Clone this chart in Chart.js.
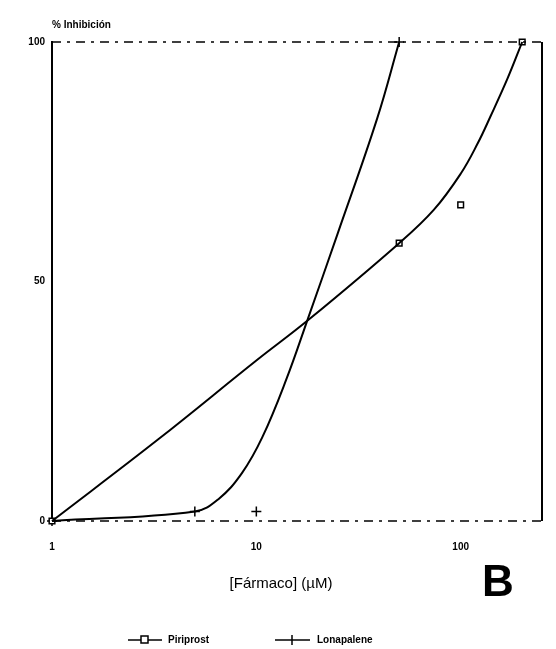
<!DOCTYPE html>
<html>
<head>
<meta charset="utf-8">
<script src="https://cdn.jsdelivr.net/npm/chart.js@4/dist/chart.umd.min.js"></script>
<style>
  html, body { margin: 0; padding: 0; background: #fff; }
  canvas { display: block; }
</style>
</head>
<body>
<canvas id="c" width="556" height="649"></canvas>
<script>
// Concentration (µM) and % inhibition of the measured points
const piriprostDose = [1, 50, 100, 200];
const piriprostInhib = [0, 58, 66, 100];
const lonapaleneDose = [1, 5, 10, 50];
const lonapaleneInhib = [0, 2, 2, 100];

// Fitted curves traced along each drug
const piriprostFitDose = [1, 3.3, 10, 18, 50, 74, 100, 121, 140, 170, 200];
const piriprostFitInhib = [0, 17, 33.5, 42, 58, 65, 72.5, 78.8, 84.5, 92.5, 100];
const lonapaleneFitDose = [1, 5, 6.5, 8.5, 10.7, 14, 17.8, 25, 39, 50];
const lonapaleneFitInhib = [0, 2, 4.5, 10, 17.5, 29.5, 42, 60, 84, 100];

// Axis ticks
const xTicks = [1, 10, 100];
const yTicks = [0, 50, 100];

const seriesNames = ['Piriprost', 'Lonapalene'];
const xTitle = '[Fármaco] (µM)';
const yTitle = '% Inhibición';
const panelLetter = 'B';

const toXY = (xs, ys) => xs.map((x, i) => ({ x: x, y: ys[i] }));
const FONT = '"Liberation Sans", Arial, sans-serif';

// Frame, axis titles, panel letter and legend
const decorations = {
  id: 'decorations',
  afterDraw(chart) {
    const { ctx, chartArea: a } = chart;
    ctx.save();
    ctx.strokeStyle = '#000';
    // right frame edge (solid)
    ctx.lineWidth = 2;
    ctx.beginPath();
    ctx.moveTo(a.right, a.top);
    ctx.lineTo(a.right, a.bottom);
    ctx.stroke();
    // top and bottom frame edges (broken)
    ctx.lineWidth = 1.5;
    ctx.setLineDash([9, 6, 3, 6]);
    ctx.beginPath();
    ctx.moveTo(a.left, a.top);
    ctx.lineTo(a.right, a.top);
    ctx.moveTo(a.left, a.bottom);
    ctx.lineTo(a.right, a.bottom);
    ctx.stroke();
    ctx.setLineDash([]);

    ctx.fillStyle = '#000';
    ctx.textBaseline = 'middle';
    // y title
    ctx.font = 'bold 10px ' + FONT;
    ctx.textAlign = 'left';
    ctx.fillText(yTitle, 52, 25);
    // x title
    ctx.font = '15px ' + FONT;
    ctx.textAlign = 'center';
    ctx.fillText(xTitle, 281, 584);
    // panel letter
    ctx.font = 'bold 44px ' + FONT;
    ctx.textAlign = 'left';
    ctx.fillText(panelLetter, 482, 584);

    // legend
    const ly = 640;
    ctx.lineWidth = 1.5;
    ctx.font = 'bold 10px ' + FONT;
    ctx.textAlign = 'left';
    // Piriprost entry
    ctx.beginPath(); ctx.moveTo(128, ly); ctx.lineTo(162, ly); ctx.stroke();
    ctx.fillStyle = '#fff';
    ctx.fillRect(141, ly - 4, 7, 7);
    ctx.strokeRect(141, ly - 4, 7, 7);
    ctx.fillStyle = '#000';
    ctx.fillText(seriesNames[0], 168, ly);
    // Lonapalene entry
    ctx.beginPath(); ctx.moveTo(275, ly); ctx.lineTo(310, ly); ctx.stroke();
    ctx.beginPath(); ctx.moveTo(292, ly - 5); ctx.lineTo(292, ly + 5); ctx.stroke();
    ctx.fillText(seriesNames[1], 317, ly);
    ctx.restore();
  }
};

new Chart(document.getElementById('c'), {
  type: 'scatter',
  data: {
    datasets: [
      {
        label: seriesNames[0] + ' fit',
        type: 'line',
        data: toXY(piriprostFitDose, piriprostFitInhib),
        borderColor: '#000',
        borderWidth: 2,
        pointRadius: 0,
        tension: 0.4,
        fill: false
      },
      {
        label: seriesNames[1] + ' fit',
        type: 'line',
        data: toXY(lonapaleneFitDose, lonapaleneFitInhib),
        borderColor: '#000',
        borderWidth: 2,
        pointRadius: 0,
        tension: 0.4,
        fill: false
      },
      {
        label: seriesNames[0],
        data: toXY(piriprostDose, piriprostInhib),
        pointStyle: 'rect',
        pointRadius: 4,
        backgroundColor: '#fff',
        borderColor: '#000',
        borderWidth: 1.5
      },
      {
        label: seriesNames[1],
        data: toXY(lonapaleneDose, lonapaleneInhib),
        pointStyle: 'cross',
        pointRadius: 5,
        borderColor: '#000',
        borderWidth: 1.5
      }
    ]
  },
  options: {
    responsive: false,
    animation: false,
    clip: false,
    layout: { padding: { top: 42, right: 14, left: 0, bottom: 0 } },
    plugins: { legend: { display: false }, tooltip: { enabled: false } },
    scales: {
      x: {
        type: 'logarithmic',
        min: 1,
        max: 250,
        afterFit(s) { s.height = 128; },
        afterBuildTicks(s) { s.ticks = xTicks.map(v => ({ value: v })); },
        grid: { display: false, drawTicks: false },
        border: { display: false },
        ticks: {
          padding: 20,
          color: '#000',
          font: { family: FONT, size: 10, weight: 'bold' },
          callback: v => String(v),
          maxRotation: 0
        }
      },
      y: {
        min: 0,
        max: 100,
        afterFit(s) { s.width = 52; },
        afterBuildTicks(s) { s.ticks = yTicks.map(v => ({ value: v })); },
        grid: { display: false, drawTicks: false },
        border: { display: true, color: '#000', width: 2 },
        ticks: {
          padding: 7,
          color: '#000',
          font: { family: FONT, size: 10, weight: 'bold' }
        }
      }
    }
  },
  plugins: [decorations]
});
</script>
</body>
</html>
